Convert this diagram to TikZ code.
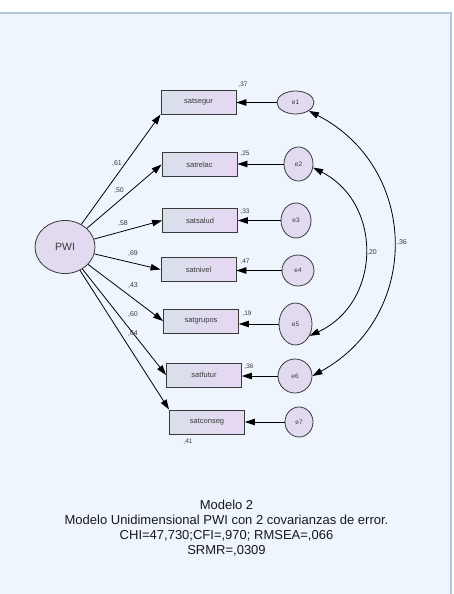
\documentclass[tikz,border=0pt]{standalone}
\usepackage{fontspec}
\setmainfont{Liberation Sans}
\usetikzlibrary{arrows.meta,shapes.geometric}
\definecolor{panel}{HTML}{EEF5FD}
\definecolor{frame}{HTML}{B3C7DB}
\definecolor{boxleft}{HTML}{D8E0EA}
\definecolor{boxright}{HTML}{E7D7F4}
\definecolor{latent}{HTML}{E3DAF1}
\definecolor{ink}{HTML}{3A3A3A}
\tikzset{
  obs/.style={draw=ink,line width=0.9pt,left color=boxleft,right color=boxright,
              minimum width=75pt,minimum height=24pt,inner sep=0pt,
              font=\fontsize{7.5}{8}\selectfont,text=ink},
  lat/.style={ellipse,draw=ink,line width=0.8pt,left color=latent!80!boxleft,
              right color=latent,inner sep=0pt,text=ink},
  err/.style={lat,font=\fontsize{6.5}{7}\selectfont},
  coef/.style={font=\fontsize{7}{8}\selectfont,text=ink,inner sep=0pt},
  rsq/.style={font=\fontsize{6.5}{7}\selectfont,text=ink,inner sep=0pt},
  load/.style={-{Triangle[length=10pt,width=6.5pt]},line width=0.8pt},
  cov/.style={{Triangle[length=10pt,width=6.5pt]}-{Triangle[length=10pt,width=6.5pt]},
              line width=0.8pt,bend left=62,looseness=1.2}
}

\begin{document}
\begin{tikzpicture}[x=1pt,y=1pt]
\useasboundingbox (0,0) rectangle (453,-594);
\fill[panel] (0,-13) rectangle (451,-594);
\draw[frame,line width=1.5pt] (0,-13) -- (451,-13) -- (451,-594);

% latent factor
\node[lat,minimum width=60pt,minimum height=53pt,font=\fontsize{10.5}{12}\selectfont] (pwi) at (65,-247) {PWI};

% observed items
\node[obs] (satsegur) at (198.5,-102) {satsegur};
\node[obs] (satrelac) at (199.5,-164.5) {satrelac};
\node[obs] (satsalud) at (200,-220.5) {satsalud};
\node[obs] (satnivel) at (198.5,-269.5) {satnivel};
\node[obs] (satgrupos) at (201,-321) {satgrupos};
\node[obs] (satfutur) at (204,-375) {satfutur};
\node[obs] (satconseg) at (207,-422) {satconseg};

% error terms
\node[err,minimum width=37pt,minimum height=23pt] (e1) at (295.5,-102.5) {e1};
\node[err,minimum width=29pt,minimum height=34pt] (e2) at (298.5,-164) {e2};
\node[err,minimum width=30pt,minimum height=35pt] (e3) at (296,-220.5) {e3};
\node[err,minimum width=32pt,minimum height=31pt] (e4) at (298,-270.5) {e4};
\node[err,minimum width=33pt,minimum height=42pt] (e5) at (295.5,-324) {e5};
\node[err,minimum width=34pt,minimum height=34pt] (e6) at (295,-376) {e6};
\node[err,minimum width=28pt,minimum height=30pt] (e7) at (299,-422) {e7};

% loadings
\draw[load] (pwi) -- (satsegur.south west);
\draw[load] (pwi) -- (satrelac.west);
\draw[load] (pwi) -- (satsalud.west);
\draw[load] (pwi) -- (satnivel.west);
\draw[load] (pwi) -- (satgrupos.west);
\draw[load] (pwi) -- (satfutur.west);
\draw[load] (pwi) -- (satconseg.north west);

\node[coef] (l1) at (117,-164) {,61};
\node[coef] (l2) at (119,-191) {,50};
\node[coef] (l3) at (123,-224) {,58};
\node[coef] (l4) at (133,-254) {,69};
\node[coef] (l5) at (133,-286) {,43};
\node[coef] (l6) at (133,-315) {,60};
\node[coef] (l7) at (133,-334) {,64};

% errors to items
\foreach \e/\v in {e1/satsegur,e2/satrelac,e3/satsalud,e4/satnivel,e5/satgrupos,e6/satfutur,e7/satconseg}
  \draw[load] (\e.west) -- (\v.east |- \e.west);

\node[rsq] (r1) at (243,-85) {,37};
\node[rsq] (r2) at (245,-154) {,25};
\node[rsq] (r3) at (245,-212) {,33};
\node[rsq] (r4) at (245,-262) {,47};
\node[rsq] (r5) at (247,-314) {,19};
\node[rsq] (r6) at (249,-367) {,36};
\node[rsq] (r7) at (188,-442) {,41};

% error covariances
\draw[cov] (e1.-32) to (e6.east);
\draw[cov,bend left=64] (e2.-14) to (e5.-40);
\node[coef] (c16) at (402,-243) {,36};
\node[coef] (c25) at (372,-253) {,20};

\node[align=center,font=\fontsize{13}{15}\selectfont,text=black!90] (caption) at (226.5,-528.5)
  {Modelo 2\\Modelo Unidimensional PWI con 2 covarianzas de error.\\CHI=47,730;CFI=,970; RMSEA=,066\\SRMR=,0309};
\end{tikzpicture}
\end{document}
